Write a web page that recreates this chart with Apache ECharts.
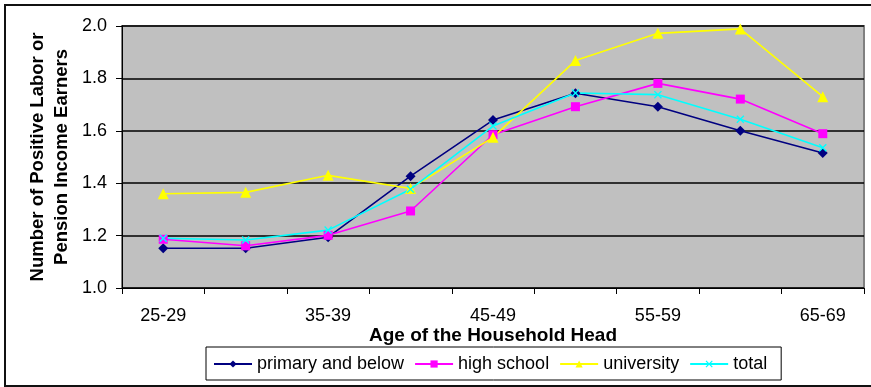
<!DOCTYPE html>
<html>
<head>
<meta charset="utf-8">
<script src="https://cdn.jsdelivr.net/npm/echarts@6/dist/echarts.min.js"></script>
<style>
  html, body { margin: 0; padding: 0; background: #fff; }
  #chart { width: 871px; height: 387px; }
</style>
</head>
<body>
<div id="chart"></div>
<script>
// Age groups of the household head
const ageGroups = ['25-29', '30-34', '35-39', '40-44', '45-49', '50-54', '55-59', '60-64', '65-69'];

// Average number of earners by education of the head
const primaryAndBelow = [1.152, 1.152, 1.194, 1.427, 1.641, 1.743, 1.692, 1.600, 1.515];
const highSchool      = [1.186, 1.161, 1.201, 1.294, 1.585, 1.692, 1.781, 1.721, 1.589];
const university      = [1.360, 1.365, 1.430, 1.380, 1.575, 1.868, 1.972, 1.989, 1.730];
const total           = [1.190, 1.183, 1.221, 1.377, 1.618, 1.744, 1.738, 1.644, 1.535];

const seriesNames = ['primary and below', 'high school', 'university', 'total'];
const yTicks = { min: 1.0, max: 2.0, step: 0.2 };

const FONT = '"Liberation Sans", Arial, sans-serif';
const crossSymbol = 'path://M0,1.2L1.2,0L5,3.8L8.8,0L10,1.2L6.2,5L10,8.8L8.8,10L5,6.2L1.2,10L0,8.8L3.8,5Z';

const chart = echarts.init(document.getElementById('chart'), null, { renderer: 'canvas' });

function lineSeries(name, data, color, symbol, size) {
  return {
    name, type: 'line', data,
    symbol, symbolSize: size,
    lineStyle: { color, width: 1.6 },
    itemStyle: { color, borderWidth: 0 },
    emphasis: { disabled: true },
    animation: false
  };
}

chart.setOption({
  animation: false,
  textStyle: { fontFamily: FONT },
  graphic: [{
    type: 'rect',
    shape: { x: 5, y: 5, width: 900, height: 381 },
    style: { fill: 'none', stroke: '#111', lineWidth: 2 },
    silent: true, z: -10
  }],
  grid: {
    left: 122, right: 7, top: 26, bottom: 99,
    show: true, backgroundColor: '#C0C0C0',
    borderColor: '#808080', borderWidth: 2
  },
  legend: {
    left: 206, top: 347,
    padding: [8, 14, 7, 7],
    itemGap: 10,
    itemWidth: 38, itemHeight: 9,
    borderColor: '#000', borderWidth: 1,
    textStyle: { fontFamily: FONT, fontSize: 18, color: '#000' },
    data: seriesNames
  },
  xAxis: {
    type: 'category',
    data: ageGroups,
    boundaryGap: true,
    name: 'Age of the Household Head',
    nameLocation: 'middle',
    nameGap: 38,
    nameMoveOverlap: false,
    nameTextStyle: { fontFamily: FONT, fontSize: 19, fontWeight: 'bold', color: '#000' },
    axisLine: { lineStyle: { color: '#000', width: 1 } },
    axisTick: { show: true, interval: 0, length: 6, lineStyle: { color: '#000' } },
    axisLabel: { interval: 1, margin: 19, fontSize: 18, color: '#000', fontFamily: FONT },
    splitLine: { show: false }
  },
  yAxis: {
    type: 'value',
    min: yTicks.min, max: yTicks.max, interval: yTicks.step,
    name: 'Number of Positive Labor or\nPension Income Earners',
    nameLocation: 'middle',
    nameRotate: 90,
    nameGap: 48,
    nameMoveOverlap: false,
    nameTextStyle: { fontFamily: FONT, fontSize: 18.5, fontWeight: 'bold', color: '#000', lineHeight: 24 },
    axisLine: { show: true, lineStyle: { color: '#000', width: 1 } },
    axisTick: { show: true, length: 6, lineStyle: { color: '#000' } },
    axisLabel: { margin: 15, fontSize: 18, color: '#000', fontFamily: FONT,
                 formatter: v => v.toFixed(1) },
    splitLine: { show: true, lineStyle: { color: '#000', width: 1.5 } }
  },
  series: [
    lineSeries(seriesNames[0], primaryAndBelow, '#000080', 'diamond', 10),
    lineSeries(seriesNames[1], highSchool, '#FF00FF', 'rect', 9),
    lineSeries(seriesNames[2], university, '#FFFF00', 'triangle', 11),
    lineSeries(seriesNames[3], total, '#00FFFF', crossSymbol, 8)
  ]
});
</script>
</body>
</html>
